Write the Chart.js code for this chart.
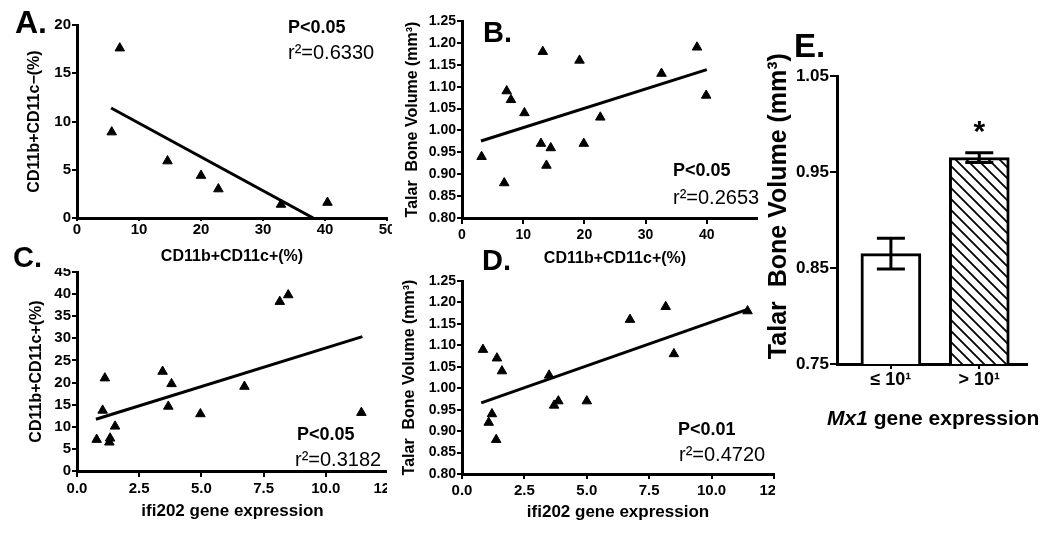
<!DOCTYPE html>
<html>
<head>
<meta charset="utf-8">
<script src="https://cdn.jsdelivr.net/npm/chart.js@4.4.1/dist/chart.umd.min.js"></script>
<style>
  body { margin:0; background:#fff; width:1050px; height:534px; overflow:hidden; position:relative; font-family:"Liberation Sans", Arial, sans-serif; }
  .clip { position:absolute; overflow:hidden; }
  .clip canvas { position:absolute; }
  .txt { position:absolute; white-space:nowrap; line-height:1; color:#000; z-index:5; }
  .b { font-weight:bold; }
</style>
</head>
<body>
<div class="clip" style="left:0;top:0;width:392px;height:270px"><canvas id="chartA" width="420" height="270" style="left:0;top:0"></canvas></div>
<div class="clip" style="left:400px;top:0;width:358px;height:270px"><canvas id="chartB" width="400" height="270" style="left:0;top:0"></canvas></div>
<div class="clip" style="left:0;top:268px;width:387px;height:266px"><canvas id="chartC" width="420" height="284" style="left:0;top:-18px"></canvas></div>
<div class="clip" style="left:400px;top:270px;width:375px;height:264px"><canvas id="chartD" width="410" height="284" style="left:0;top:-20px"></canvas></div>
<div class="clip" style="left:750px;top:20px;width:300px;height:420px"><canvas id="chartE" width="300" height="420" style="left:0;top:0"></canvas></div>

<div class="txt b" style="left:15px;top:6px;font-size:32px">A.</div>
<div class="txt b" style="left:483px;top:18px;font-size:29px">B.</div>
<div class="txt b" style="left:13px;top:243px;font-size:29px">C.</div>
<div class="txt b" style="left:482px;top:246px;font-size:29px">D.</div>
<div class="txt b" style="left:794px;top:29px;font-size:33px">E.</div>

<div class="txt b" style="left:288px;top:18px;font-size:18px">P&lt;0.05</div>
<div class="txt" style="left:288px;top:42px;font-size:20px">r²=0.6330</div>
<div class="txt b" style="left:673px;top:161px;font-size:18px">P&lt;0.05</div>
<div class="txt" style="left:673px;top:187px;font-size:20px">r²=0.2653</div>
<div class="txt b" style="left:297px;top:425px;font-size:18px">P&lt;0.05</div>
<div class="txt" style="left:295px;top:449px;font-size:20px">r²=0.3182</div>
<div class="txt b" style="left:678px;top:420px;font-size:18px">P&lt;0.01</div>
<div class="txt" style="left:679px;top:444px;font-size:20px">r²=0.4720</div>
<div class="txt b" style="left:827px;top:407px;font-size:21px"><i>Mx1</i> gene expression</div>

<script>
// A: CD11b+CD11c- vs CD11b+CD11c+
const aX = [5.6, 6.9, 14.6, 20.0, 22.8, 32.9, 40.4];
const aY = [8.9, 17.6, 5.9, 4.4, 3.0, 1.4, 1.6];
const aFitX = [5.5, 38.1];
const aFitY = [11.4, 0];

// B: talar bone volume vs CD11b+CD11c+
const bX = [3.2, 6.9, 7.3, 8.0, 10.2, 13.2, 12.9, 14.5, 13.8, 19.2, 19.9, 22.6, 32.6, 38.4, 39.9];
const bY = [0.94, 0.88, 1.09, 1.07, 1.04, 1.18, 0.97, 0.96, 0.92, 1.16, 0.97, 1.03, 1.13, 1.19, 1.08];
const bFitX = [3.1, 40];
const bFitY = [0.976, 1.139];

// C: CD11b+CD11c+ vs ifi202
const cX = [0.79, 1.12, 1.03, 1.33, 1.30, 1.53, 3.44, 3.80, 3.67, 4.96, 6.73, 8.15, 8.49, 11.43];
const cY = [7.1, 21.0, 13.7, 7.4, 6.5, 10.1, 22.5, 19.7, 14.6, 12.9, 19.1, 38.3, 39.8, 13.2];
const cFitX = [0.76, 11.47];
const cFitY = [11.7, 30.4];

// D: talar bone volume vs ifi202
const dX = [0.84, 1.40, 1.60, 1.20, 1.07, 1.37, 3.49, 3.69, 3.86, 5.0, 6.73, 8.16, 8.49, 11.44];
const dY = [1.09, 1.07, 1.04, 0.94, 0.92, 0.88, 1.03, 0.96, 0.97, 0.97, 1.16, 1.19, 1.08, 1.18];
const dFitX = [0.77, 11.44];
const dFitY = [0.966, 1.184];

// E: bars
const eCats = ['≤ 10¹', '> 10¹'];
const eMeans = [0.865, 0.965];
const eErrs = [0.016, 0.005];

const FONT = '"Liberation Sans", Arial, sans-serif';

function linAxis(o) {
  return {
    type: 'linear', min: o.min, max: o.max,
    border: { color: '#000', width: 3 },
    grid: { drawOnChartArea: false, color: '#000', lineWidth: 2, tickLength: o.tl },
    ticks: {
      stepSize: o.step, padding: o.pad, color: '#000', maxRotation: 0, autoSkip: false,
      font: { family: FONT, size: o.font, weight: 'bold' },
      callback: v => Number(v).toFixed(o.dec)
    },
    title: {
      display: !!o.title, text: o.title, color: '#000',
      font: { family: FONT, size: o.tsize, weight: 'bold' }, padding: o.tpad
    },
    afterFit: s => {
      if (o.w !== undefined) s.width = o.w;
      if (o.h !== undefined) s.height = o.h;
    }
  };
}

function scatter(id, xs, ys, fx, fy, xAxis, yAxis, pad) {
  new Chart(document.getElementById(id), {
    type: 'scatter',
    data: {
      datasets: [
        {
          data: xs.map((x, i) => ({ x, y: ys[i] })),
          pointStyle: 'triangle', pointRadius: 5.5, pointHoverRadius: 5.5,
          backgroundColor: '#000', borderColor: '#000', borderWidth: 1, clip: false
        },
        {
          data: fx.map((x, i) => ({ x, y: fy[i] })),
          showLine: true, borderColor: '#000', borderWidth: 3, pointRadius: 0, fill: false
        }
      ]
    },
    options: {
      responsive: false, animation: false,
      layout: { padding: pad },
      plugins: { legend: { display: false }, tooltip: { enabled: false } },
      scales: { x: linAxis(xAxis), y: linAxis(yAxis) }
    }
  });
}

scatter('chartA', aX, aY, aFitX, aFitY,
  { min: 0, max: 50, step: 10, dec: 0, tl: 3, pad: 0, font: 15, title: 'CD11b+CD11c+(%)', tsize: 16, tpad: { top: 0, bottom: 4 }, h: 52 },
  { min: 0, max: 20, step: 5, dec: 0, tl: 5, pad: 1, font: 15, title: 'CD11b+CD11c\u2212(%)', tsize: 16, tpad: { top: 25, bottom: 0 }, w: 77 },
  { top: 25, right: 33, bottom: 0, left: 0 });

scatter('chartB', bX, bY, bFitX, bFitY,
  { min: 0, max: 50, step: 10, dec: 0, tl: 6, pad: 3, font: 14, title: 'CD11b+CD11c+(%)', tsize: 16, tpad: { top: 0, bottom: 2 }, h: 52 },
  { min: 0.8, max: 1.25, step: 0.05, dec: 2, tl: 5, pad: 1, font: 14, title: 'Talar  Bone Volume (mm³)', tsize: 16, tpad: { top: 3, bottom: 0 }, w: 62 },
  { top: 21, right: 32, bottom: 0, left: 0 });

scatter('chartC', cX, cY, cFitX, cFitY,
  { min: 0, max: 12.5, step: 2.5, dec: 1, tl: 6, pad: 3, font: 15, title: 'ifi202 gene expression', tsize: 17, tpad: { top: 0, bottom: 12 }, h: 63 },
  { min: 0, max: 45, step: 5, dec: 0, tl: 5, pad: 1, font: 15, title: 'CD11b+CD11c+(%)', tsize: 16, tpad: { top: 27, bottom: 0 }, w: 77 },
  { top: 22, right: 32, bottom: 0, left: 0 });

scatter('chartD', dX, dY, dFitX, dFitY,
  { min: 0, max: 12.5, step: 2.5, dec: 1, tl: 5, pad: 3, font: 15, title: 'ifi202 gene expression', tsize: 17, tpad: { top: 0, bottom: 11 }, h: 60 },
  { min: 0.8, max: 1.25, step: 0.05, dec: 2, tl: 5, pad: 1, font: 14, title: 'Talar  Bone Volume (mm³)', tsize: 16, tpad: { top: 0, bottom: 0 }, w: 62 },
  { top: 31, right: 36, bottom: 0, left: 0 });

// hatch fill for the second bar
function hatch() {
  const c = document.createElement('canvas');
  c.width = c.height = 11;
  const g = c.getContext('2d');
  g.fillStyle = '#fff';
  g.fillRect(0, 0, 11, 11);
  g.strokeStyle = '#000';
  g.lineWidth = 1.8;
  g.beginPath();
  g.moveTo(-3, -3); g.lineTo(14, 14);
  g.moveTo(-3, 8); g.lineTo(3, 14);
  g.moveTo(8, -3); g.lineTo(14, 3);
  g.stroke();
  return g.createPattern(c, 'repeat');
}

const errorBars = {
  id: 'errorBars',
  afterDatasetsDraw(chart) {
    const ctx = chart.ctx;
    const y = chart.scales.y;
    const meta = chart.getDatasetMeta(0);
    ctx.save();
    ctx.strokeStyle = '#000';
    ctx.lineWidth = 3;
    meta.data.forEach((bar, i) => {
      const top = y.getPixelForValue(eMeans[i] + eErrs[i]);
      const bot = y.getPixelForValue(eMeans[i] - eErrs[i]);
      ctx.beginPath();
      ctx.moveTo(bar.x, top); ctx.lineTo(bar.x, bot);
      ctx.moveTo(bar.x - 14, top); ctx.lineTo(bar.x + 14, top);
      ctx.moveTo(bar.x - 14, bot); ctx.lineTo(bar.x + 14, bot);
      ctx.stroke();
    });
    // significance star over the second bar
    const b = meta.data[1];
    ctx.fillStyle = '#000';
    ctx.font = 'bold 30px ' + FONT;
    ctx.textAlign = 'center';
    ctx.textBaseline = 'alphabetic';
    ctx.fillText('*', b.x, y.getPixelForValue(eMeans[1] + eErrs[1]) - 12);
    ctx.restore();
  }
};

const eX = linAxis({ min: 0.39, max: 2.54, step: 1, dec: 0, tl: 5, pad: 0, font: 18, title: '', h: 76 });
eX.offset = false;
eX.grid.offset = false;
eX.afterBuildTicks = s => { s.ticks = eCats.map((_, i) => ({ value: i + 1 })); };
eX.ticks.callback = v => eCats[v - 1];

new Chart(document.getElementById('chartE'), {
  type: 'bar',
  data: {
    datasets: [{
      data: eMeans.map((y, i) => ({ x: i + 1, y })),
      backgroundColor: ['#fff', hatch()],
      borderColor: '#000', borderWidth: 3, barThickness: 60
    }]
  },
  options: {
    responsive: false, animation: false,
    layout: { padding: { top: 56, right: 23, bottom: 0, left: 0 } },
    plugins: { legend: { display: false }, tooltip: { enabled: false } },
    scales: {
      x: eX,
      y: linAxis({ min: 0.75, max: 1.05, step: 0.1, dec: 2, tl: 7, pad: 1, font: 17, title: '    Talar  Bone Volume (mm³)', tsize: 25, tpad: { top: 14, bottom: 0 }, w: 87 })
    }
  },
  plugins: [errorBars]
});
</script>
</body>
</html>
